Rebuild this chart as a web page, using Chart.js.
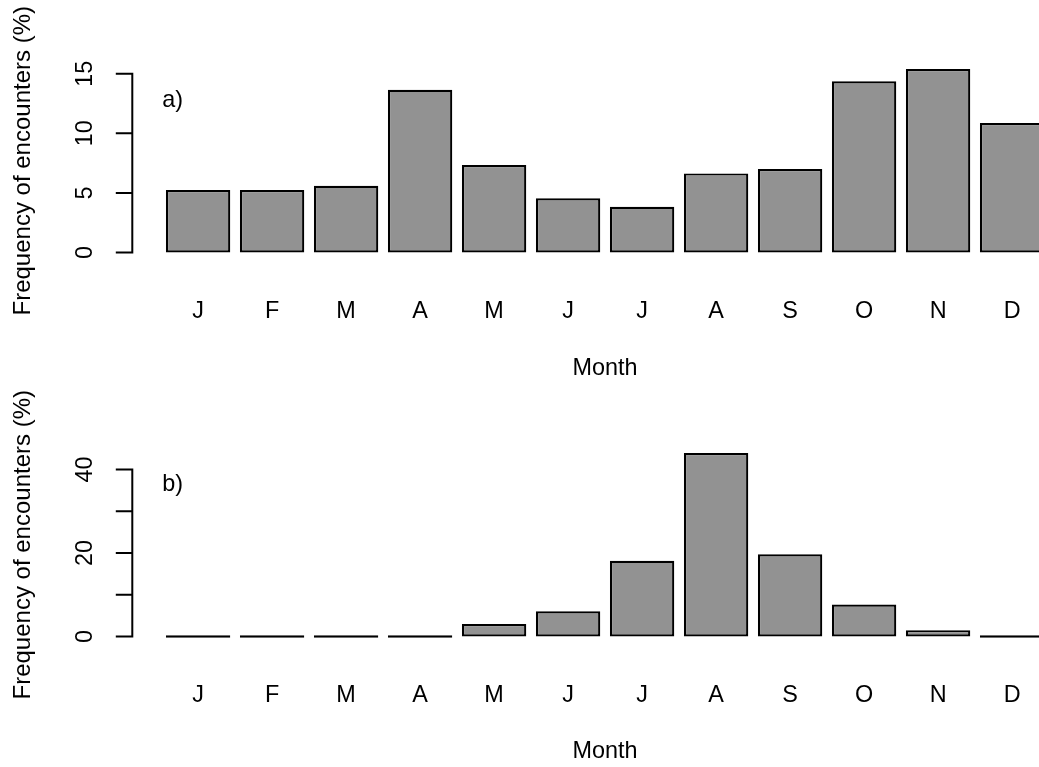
<!DOCTYPE html>
<html><head><meta charset="utf-8">
<script src="https://cdn.jsdelivr.net/npm/chart.js@4.4.1/dist/chart.umd.min.js"></script>
<style>
html,body{margin:0;padding:0;background:#fff;overflow:hidden;width:1039px;height:767px;}
#wrap{position:relative;width:1039px;height:767px;overflow:hidden;background:#fff;}
canvas{position:absolute;left:0;}
</style></head><body>
<div id="wrap">
<canvas id="ca" width="1100" height="384" style="top:0;width:1100px;height:384px"></canvas>
<canvas id="cb" width="1100" height="383" style="top:384px;width:1100px;height:383px"></canvas>
</div>
<script>
// ---- data ----
const months = ['J','F','M','A','M','J','J','A','S','O','N','D'];
const freqA = [5.24, 5.24, 5.6, 13.66, 7.34, 4.55, 3.84, 6.64, 7.0, 14.37, 15.4, 10.87];
const freqB = [0, 0, 0, 0, 3.0, 6.07, 18.16, 43.97, 19.69, 7.65, 1.53, 0];
const yTicksA = [0, 5, 10, 15];
const yTickLabelsA = ['0', '5', '10', '15'];
const yTicksB = [0, 10, 20, 30, 40];
const yTickLabelsB = ['0', '', '20', '', '40'];
const panelLabelA = 'a)';
const panelLabelB = 'b)';
const xTitle = 'Month';
const yTitle = 'Frequency of encounters (%)';

// ---- styling / layout ----
const FONT = '"Liberation Sans", Arial, Helvetica, sans-serif';
const FS = 23.4;
const FS_YT = 24;
Chart.defaults.font.family = FONT;
Chart.defaults.color = '#000';

const AREA_TOP = 61.6, AREA_BOTTOM = 259.9, AREA_LEFT = 161.1, AREA_RIGHT = 1049.1;

const rAxisPlugin = {
  id: 'rAxis',
  afterDraw(chart, args, opts) {
    const ctx = chart.ctx, ys = chart.scales.y, ca = chart.chartArea;
    const ax = ca.left - 28.8;
    const ticks = opts.ticks, labels = opts.labels;
    ctx.save();
    ctx.strokeStyle = '#000';
    ctx.lineWidth = 2;
    ctx.lineCap = 'butt';
    ctx.beginPath();
    ctx.moveTo(ax, ys.getPixelForValue(ticks[0]) + 1);
    ctx.lineTo(ax, ys.getPixelForValue(ticks[ticks.length - 1]) - 1);
    ticks.forEach(v => {
      const py = ys.getPixelForValue(v);
      ctx.moveTo(ax - 16.5, py);
      ctx.lineTo(ax + 1, py);
    });
    ctx.stroke();
    ctx.fillStyle = '#000';
    ctx.font = FS + 'px ' + FONT;
    ctx.textAlign = 'center';
    ctx.textBaseline = 'middle';
    ticks.forEach((v, i) => {
      if (!labels[i]) return;
      const py = ys.getPixelForValue(v);
      ctx.save();
      ctx.translate(ax - 46.5, py);
      ctx.rotate(-Math.PI / 2);
      ctx.fillText(labels[i], 0, 0);
      ctx.restore();
    });
    ctx.textAlign = 'left';
    ctx.textBaseline = 'alphabetic';
    ctx.fillText(opts.panel, ca.left + 1.2, ca.top + 45.6);
    ctx.restore();
  }
};

function makeChart(id, values, yTicks, yLabels, panel) {
  const canvas = document.getElementById(id);
  const H = canvas.height;
  const maxV = Math.max(...values);
  const ext = 0.04 * maxV;
  return new Chart(canvas, {
    type: 'bar',
    data: {
      labels: months,
      datasets: [{
        data: values,
        backgroundColor: '#929292',
        borderColor: '#000',
        borderWidth: 2.2,
        borderSkipped: false,
        barPercentage: 0.87,
        categoryPercentage: 1,
        minBarLength: 2.4
      }]
    },
    options: {
      responsive: false,
      animation: false,
      devicePixelRatio: 1,
      layout: { padding: { top: AREA_TOP, left: 0, right: canvas.width - AREA_RIGHT, bottom: 0 } },
      plugins: {
        legend: { display: false },
        tooltip: { enabled: false },
        rAxis: { ticks: yTicks, labels: yLabels, panel: panel }
      },
      scales: {
        x: {
          type: 'category',
          offset: true,
          grid: { display: false },
          border: { display: false },
          ticks: { font: { size: FS }, color: '#000', padding: 30, maxRotation: 0, autoSkip: false },
          title: { display: true, text: xTitle, font: { size: FS }, color: '#000', padding: { top: 0, bottom: 1 } },
          afterFit: s => { s.height = H - AREA_BOTTOM; }
        },
        y: {
          type: 'linear',
          min: -ext,
          max: maxV + ext,
          afterBuildTicks: s => { s.ticks = yTicks.map(v => ({ value: v })); },
          ticks: { display: false },
          grid: { display: false },
          border: { display: false },
          title: { display: true, text: yTitle, font: { size: FS_YT }, color: '#000', padding: { top: 8.5, bottom: 0 } },
          afterFit: s => { s.width = AREA_LEFT; }
        }
      }
    },
    plugins: [rAxisPlugin]
  });
}

makeChart('ca', freqA, yTicksA, yTickLabelsA, panelLabelA);
makeChart('cb', freqB, yTicksB, yTickLabelsB, panelLabelB);
</script>
</body></html>
